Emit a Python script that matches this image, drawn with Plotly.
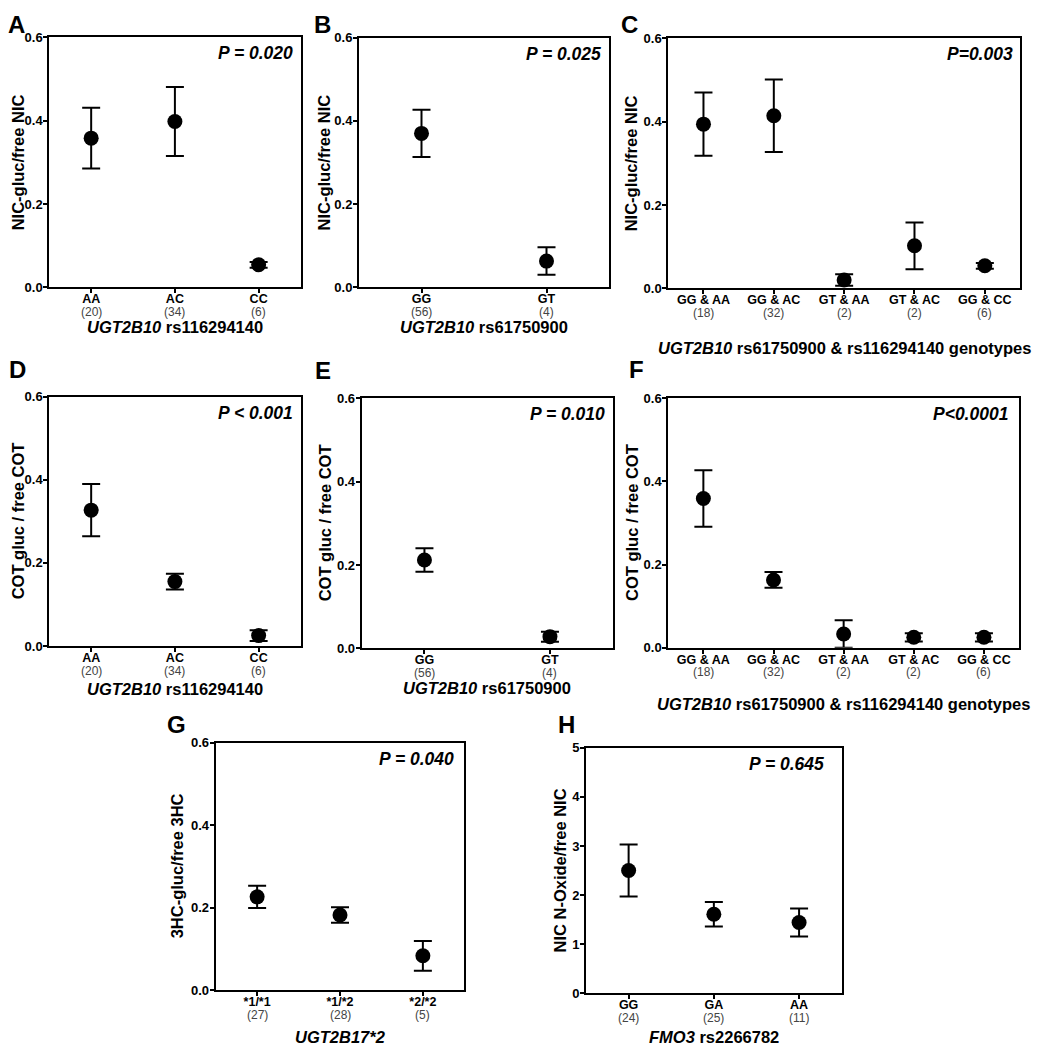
import plotly.graph_objects as go

W, H = 1050, 1050
OFF = 8  # page body margin compensation
FONT = "Liberation Sans, Arial, Helvetica, sans-serif"

# ---------------- data ----------------
a_cats = ["AA", "AC", "CC"]
a_n = [20, 34, 6]
a_mean = [0.358, 0.398, 0.054]
a_sem = [0.073, 0.083, 0.007]

b_cats = ["GG", "GT"]
b_n = [56, 4]
b_mean = [0.370, 0.063]
b_sem = [0.057, 0.033]

c_cats = ["GG & AA", "GG & AC", "GT & AA", "GT & AC", "GG & CC"]
c_n = [18, 32, 2, 2, 6]
c_mean = [0.394, 0.414, 0.020, 0.102, 0.054]
c_sem = [0.076, 0.087, 0.014, 0.056, 0.007]

d_cats = ["AA", "AC", "CC"]
d_n = [20, 34, 6]
d_mean = [0.327, 0.155, 0.025]
d_sem = [0.063, 0.019, 0.013]

e_cats = ["GG", "GT"]
e_n = [56, 4]
e_mean = [0.212, 0.028]
e_sem = [0.028, 0.012]

f_cats = ["GG & AA", "GG & AC", "GT & AA", "GT & AC", "GG & CC"]
f_n = [18, 32, 2, 2, 6]
f_mean = [0.359, 0.163, 0.033, 0.025, 0.025]
f_sem = [0.068, 0.019, 0.033, 0.010, 0.010]

g_cats = ["*1/*1", "*1/*2", "*2/*2"]
g_n = [27, 28, 5]
g_mean = [0.226, 0.182, 0.083]
g_sem = [0.027, 0.019, 0.036]

h_cats = ["GG", "GA", "AA"]
h_n = [24, 25, 11]
h_mean = [2.50, 1.61, 1.44]
h_sem = [0.53, 0.25, 0.285]

y_ticks_ratio = [0.0, 0.2, 0.4, 0.6]
y_ticks_h = [0, 1, 2, 3, 4, 5]

panels = [
    dict(letter="A", cats=a_cats, n=a_n, mean=a_mean, sem=a_sem,
         ytitle="NIC-gluc/free NIC", xtitle="<b><i>UGT2B10</i> rs116294140</b>",
         p="P = 0.020", yt=y_ticks_ratio, ymax=0.6),
    dict(letter="B", cats=b_cats, n=b_n, mean=b_mean, sem=b_sem,
         ytitle="NIC-gluc/free NIC", xtitle="<b><i>UGT2B10</i> rs61750900</b>",
         p="P = 0.025", yt=y_ticks_ratio, ymax=0.6),
    dict(letter="C", cats=c_cats, n=c_n, mean=c_mean, sem=c_sem,
         ytitle="NIC-gluc/free NIC",
         xtitle="<b><i>UGT2B10</i> rs61750900 &amp; rs116294140 genotypes</b>",
         p="P=0.003", yt=y_ticks_ratio, ymax=0.6),
    dict(letter="D", cats=d_cats, n=d_n, mean=d_mean, sem=d_sem,
         ytitle="COT gluc / free COT", xtitle="<b><i>UGT2B10</i> rs116294140</b>",
         p="P &lt; 0.001", yt=y_ticks_ratio, ymax=0.6),
    dict(letter="E", cats=e_cats, n=e_n, mean=e_mean, sem=e_sem,
         ytitle="COT gluc / free COT", xtitle="<b><i>UGT2B10</i> rs61750900</b>",
         p="P = 0.010", yt=y_ticks_ratio, ymax=0.6),
    dict(letter="F", cats=f_cats, n=f_n, mean=f_mean, sem=f_sem,
         ytitle="COT gluc / free COT",
         xtitle="<b><i>UGT2B10</i> rs61750900 &amp; rs116294140 genotypes</b>",
         p="P&lt;0.0001", yt=y_ticks_ratio, ymax=0.6),
    dict(letter="G", cats=g_cats, n=g_n, mean=g_mean, sem=g_sem,
         ytitle="3HC-gluc/free 3HC", xtitle="<b><i>UGT2B17*2</i></b>",
         p="P = 0.040", yt=y_ticks_ratio, ymax=0.6),
    dict(letter="H", cats=h_cats, n=h_n, mean=h_mean, sem=h_sem,
         ytitle="NIC N-Oxide/free NIC", xtitle="<b><i>FMO3</i> rs2266782</b>",
         p="P = 0.645", yt=y_ticks_h, ymax=5),
]

# ---------------- layout geometry (target pixels) ----------------
# plot box x0, x1, y0(top), y1(bottom)
boxes = [
    (49.3, 300.5, 37.3, 287.3),
    (359.0, 609.0, 37.7, 287.3),
    (668.3, 1020.0, 38.3, 288.3),
    (49.3, 300.5, 396.7, 646.0),
    (361.7, 612.7, 398.3, 648.3),
    (668.3, 1019.0, 398.3, 647.7),
    (215.7, 464.3, 742.7, 990.0),
    (586.0, 841.7, 747.7, 993.3),
]
letter_pos = [(16, 24), (322, 24), (629, 24), (17, 369), (323, 370), (636, 369),
              (176, 724), (566, 724)]
ytitle_x = [18, 323, 631, 18, 325, 632, 177, 559]
xtitle_y = [327, 327, 348, 689, 688, 704, 1037, 1037]
p_inset = [6, 6, 5, 6, 6, 9, 8, 16]


def px(x):
    return (x - OFF) / W


def py(y):
    return 1 - (y - OFF) / H


fig = go.Figure()
annotations = []

for i, (pn, box) in enumerate(zip(panels, boxes)):
    k = "" if i == 0 else str(i + 1)
    x0, x1, y0, y1 = box
    xs = list(range(len(pn["cats"])))
    fig.add_trace(go.Scatter(
        x=xs, y=pn["mean"], mode="markers",
        marker=dict(size=15, color="black"),
        error_y=dict(type="data", array=pn["sem"], visible=True,
                     color="black", thickness=2, width=9),
        xaxis="x" + k, yaxis="y" + k, showlegend=False, hoverinfo="skip",
    ))
    ticktext = ["<b>%s</b>" % c.replace("&", "&amp;") for c in pn["cats"]]
    fig.layout["xaxis" + k] = dict(
        domain=[px(x0), px(x1)], anchor="y" + k, automargin=False,
        range=[-0.5, len(xs) - 0.5], tickvals=xs, ticktext=ticktext,
        showline=True, mirror=True, linewidth=2, linecolor="black",
        ticks="outside", ticklen=4, tickwidth=2, tickcolor="black",
        ticklabelstandoff=-5,
        showgrid=False, zeroline=False, fixedrange=True,
        tickfont=dict(family=FONT, size=12.5, color="black"),
    )
    fig.layout["yaxis" + k] = dict(
        domain=[py(y1), py(y0)], anchor="x" + k, automargin=False,
        range=[0, pn["ymax"]], tickvals=pn["yt"],
        tickformat=".1f" if pn["ymax"] < 1 else "d",
        showline=True, mirror=True, linewidth=2, linecolor="black",
        ticks="outside", ticklen=4, tickwidth=2, tickcolor="black",
        ticklabelstandoff=-2,
        showgrid=False, zeroline=False, fixedrange=True,
        tickfont=dict(family=FONT, size=13, color="black", weight="bold"),
    )
    # group sizes under each category
    for xi, n in zip(xs, pn["n"]):
        annotations.append(dict(
            text="(%d)" % n, xref="x" + k, yref="y%s domain" % k,
            x=xi, y=0, yshift=-24.5, xanchor="center", yanchor="middle",
            showarrow=False, font=dict(family=FONT, size=12, color="#444")))
    # panel letter
    lx, ly = letter_pos[i]
    annotations.append(dict(
        text="<b>%s</b>" % pn["letter"], xref="paper", yref="paper",
        x=px(lx), y=py(ly), xanchor="center", yanchor="middle",
        showarrow=False, font=dict(family=FONT, size=24, color="black")))
    # y title
    annotations.append(dict(
        text="<b>%s</b>" % pn["ytitle"], xref="paper", yref="paper",
        x=px(ytitle_x[i]), y=py((y0 + y1) / 2), textangle=-90,
        xanchor="center", yanchor="middle", showarrow=False,
        font=dict(family=FONT, size=16.5, color="black")))
    # x title
    annotations.append(dict(
        text=pn["xtitle"], xref="paper", yref="paper",
        x=px((x0 + x1) / 2), y=py(xtitle_y[i]),
        xanchor="center", yanchor="middle", showarrow=False,
        font=dict(family=FONT, size=16.5, color="black")))
    # P value
    annotations.append(dict(
        text="<b><i>%s</i></b>" % pn["p"], xref="x%s domain" % k, yref="y%s domain" % k,
        x=1, y=1, xshift=-p_inset[i], yshift=-16,
        xanchor="right", yanchor="middle", showarrow=False,
        font=dict(family=FONT, size=17.5, color="black")))

fig.update_layout(
    width=W, height=H, margin=dict(l=0, r=0, t=0, b=0, pad=0, autoexpand=False),
    paper_bgcolor="white", plot_bgcolor="white",
    annotations=annotations, showlegend=False,
    font=dict(family=FONT, color="black"),
)

fig.write_html("out.html")
